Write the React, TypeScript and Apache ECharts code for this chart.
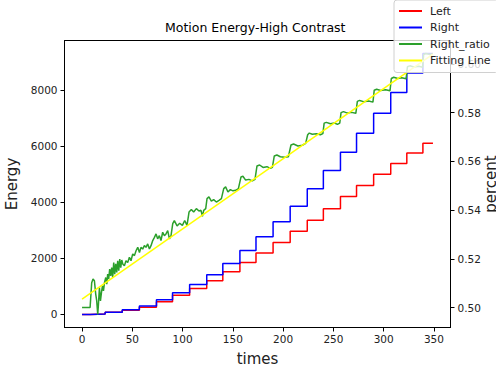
import React, { useEffect, useRef } from "react";
import * as echarts from "echarts";

// Step boundaries (times) and energy levels held from each boundary to the next
const stepTimes = [0, 8, 23, 40, 57, 74, 90, 107, 124, 140, 157, 173, 190, 207, 224, 240, 257, 273, 290, 307, 323, 339];
const endTime = 349;
const leftLevels = [0, 15, 75, 150, 261, 457, 682, 929, 1200, 1521, 1857, 2196, 2571, 2975, 3368, 3771, 4214, 4607, 5011, 5393, 5768, 6118];
const rightLevels = [0, 15, 75, 164, 304, 525, 779, 1071, 1414, 1821, 2286, 2771, 3307, 3868, 4493, 5143, 5796, 6475, 7189, 7929, 8625, 9318];

// Right_ratio: [time, ratio]
const ratioPoints: [number, number][] = [
  [0, 0.5], [8, 0.5], [9.6, 0.5102], [10.9, 0.5117], [12.3, 0.511], [13.6, 0.5055], [14.6, 0.5027], [15.6, 0.4972],
  [16.3, 0.5013], [17.3, 0.5082], [18.3, 0.5027], [19.3, 0.5061], [20.3, 0.5089], [21.3, 0.5068], [22.3, 0.5102],
  [23.6, 0.5123], [24.6, 0.5096], [25.5, 0.5137], [26.5, 0.5117], [27.5, 0.5158], [28.5, 0.513], [29.5, 0.5164],
  [30.5, 0.5123], [31.5, 0.5185], [32.5, 0.5137], [33.5, 0.5179], [34.5, 0.5144], [35.5, 0.5192], [36.5, 0.5151],
  [37.5, 0.5199], [38.5, 0.5164], [39.5, 0.5195], [40.5, 0.5179], [42.1, 0.5171], [43.7, 0.5192], [45.4, 0.5185],
  [47.1, 0.5206], [48.7, 0.5192], [50.4, 0.522], [52.1, 0.5213], [53.7, 0.5233], [55.4, 0.5247], [57.1, 0.5226],
  [58.6, 0.5247], [60.3, 0.524], [62, 0.5254], [63.6, 0.5247], [65.3, 0.5261], [67, 0.524], [68.6, 0.5254],
  [70.3, 0.5275], [72, 0.5288], [73.6, 0.5302], [75.2, 0.5282], [76.9, 0.5295], [78.5, 0.5275], [80.2, 0.5309],
  [81.9, 0.5295], [83.5, 0.5302], [85.2, 0.5316], [86.9, 0.5282], [88.5, 0.5295], [90.2, 0.5344], [91.8, 0.5357],
  [94.5, 0.5335], [97.1, 0.5346], [99.8, 0.5337], [102.1, 0.5357], [104.4, 0.5337], [106.4, 0.5392], [108.7, 0.5402],
  [111, 0.5392], [113.7, 0.5406], [116.3, 0.5396], [118.3, 0.5399], [119.7, 0.5374], [121, 0.5399], [123, 0.5406],
  [124.3, 0.5447], [126.2, 0.5454], [128.6, 0.5437], [130.9, 0.5443], [133.6, 0.5433], [136.2, 0.544], [138.6, 0.5447],
  [140.9, 0.5488], [142.8, 0.5495], [145.1, 0.5474], [147.5, 0.5484], [150.1, 0.5479], [152.8, 0.5481], [155.5, 0.5488],
  [158.1, 0.5536], [160, 0.5539], [162.7, 0.5523], [166, 0.5526], [169.4, 0.552], [172, 0.5526],
  [174, 0.5581], [176.6, 0.5585], [180, 0.5575], [183.9, 0.5578], [187.3, 0.5571], [189.3, 0.5575],
  [191.2, 0.5622], [193.8, 0.5626], [197.2, 0.5619], [201.5, 0.5617], [205.2, 0.5619],
  [207.8, 0.5667], [210.4, 0.5671], [214.7, 0.5663], [219.1, 0.5666], [222.4, 0.5674],
  [224.4, 0.5709], [226, 0.5716], [229, 0.5711], [233, 0.5713], [237, 0.5709], [239.5, 0.5714],
  [240.8, 0.5757], [243, 0.576], [247, 0.5754], [251, 0.5757], [254, 0.5752], [256.3, 0.5757],
  [257.6, 0.58], [260, 0.5804], [264, 0.5798], [268, 0.5801], [272.3, 0.5797],
  [273.8, 0.5846], [276, 0.585], [280, 0.5845], [285, 0.5848], [289.3, 0.5843],
  [290.6, 0.5892], [293, 0.5896], [297, 0.5891], [302, 0.5894], [306.3, 0.589],
  [307.6, 0.594], [310, 0.5945], [314, 0.594], [318, 0.5943], [322.3, 0.5939],
  [323.6, 0.5988], [326, 0.5992], [330, 0.5987], [335, 0.599], [338.6, 0.5986],
  [339.8, 0.6038], [342, 0.6043], [345, 0.6039], [349, 0.6041],
];

const fitLine: [number, number][] = [[0, 0.5034], [349, 0.604]];

const xTicks = [0, 50, 100, 150, 200, 250, 300, 350];
const energyTicks = [0, 2000, 4000, 6000, 8000];
const percentTicks = [0.5, 0.52, 0.54, 0.56, 0.58, 0.6];

const FONT = "DejaVu Sans";
const TXT = "#222";

function stepData(levels: number[]): [number, number][] {
  const d: [number, number][] = stepTimes.map((t, i) => [t, levels[i]]);
  d.push([endTime, levels[levels.length - 1]]);
  return d;
}

export default function App() {
  const ref = useRef<HTMLDivElement>(null);
  useEffect(() => {
    if (!ref.current) return;
    const chart = echarts.init(ref.current, null, { renderer: "svg" });
    const axisLine = { show: true, onZero: false, lineStyle: { color: "#000", width: 1 } };
    const tick = (vals: number[]) => ({
      show: true,
      inside: false,
      length: 4,
      customValues: vals,
      lineStyle: { color: "#000", width: 1 },
    });
    chart.setOption({
      animation: false,
      backgroundColor: "#fff",
      title: {
        text: "Motion Energy-High Contrast",
        left: 165,
        top: 21,
        padding: 0,
        textStyle: { fontSize: 12.5, fontWeight: "normal", color: "#000", fontFamily: FONT },
      },
      legend: {
        orient: "vertical",
        left: 394,
        top: 0,
        data: ["Left", "Right", "Right_ratio", "Fitting Line"],
        icon: "rect",
        itemWidth: 23,
        itemHeight: 2,
        itemGap: 2.5,
        padding: [4, 8, 5, 5],
        backgroundColor: "rgba(255,255,255,0.8)",
        borderColor: "#d0d0d0",
        borderWidth: 1,
        borderRadius: 3,
        textStyle: {
          fontSize: 11,
          lineHeight: 14,
          color: TXT,
          fontFamily: FONT,
          padding: [0, 0, 0, 3],
        },
      },
      grid: {
        left: 64.5,
        top: 40.5,
        width: 386,
        height: 287,
        containLabel: false,
        outerBoundsMode: "none",
        show: true,
        borderColor: "#000",
        borderWidth: 1,
        backgroundColor: "transparent",
      },
      xAxis: {
        type: "value",
        min: -17.45,
        max: 366.45,
        axisLine,
        axisTick: tick(xTicks),
        splitLine: { show: false },
        axisLabel: {
          customValues: xTicks,
          margin: 6,
          fontSize: 10.5,
          color: TXT,
          fontFamily: FONT,
          formatter: (v: number) => String(v),
        },
        name: "times",
        nameLocation: "middle",
        nameGap: 24,
        nameTextStyle: { fontSize: 15, color: TXT, fontFamily: FONT },
      },
      yAxis: [
        {
          type: "value",
          position: "left",
          min: -466,
          max: 9784,
          axisLine,
          axisTick: tick(energyTicks),
          splitLine: { show: false },
          axisLabel: {
            customValues: energyTicks,
            margin: 7,
            fontSize: 10.5,
            color: TXT,
            fontFamily: FONT,
            formatter: (v: number) => String(v),
          },
          name: "Energy",
          nameLocation: "middle",
          nameRotate: 90,
          nameGap: 40,
          nameTextStyle: { fontSize: 15, color: TXT, fontFamily: FONT },
        },
        {
          type: "value",
          position: "right",
          min: 0.4918,
          max: 0.6096,
          axisLine,
          axisTick: tick(percentTicks),
          splitLine: { show: false },
          axisLabel: {
            customValues: percentTicks,
            margin: 7,
            fontSize: 10.5,
            color: TXT,
            fontFamily: FONT,
            formatter: (v: number) => v.toFixed(2),
          },
          name: "percent",
          nameLocation: "middle",
          nameRotate: 90,
          nameGap: 33,
          nameMoveOverlap: false,
          nameTextStyle: { fontSize: 15, color: TXT, fontFamily: FONT },
        },
      ],
      series: [
        {
          name: "Left",
          type: "line",
          step: "end",
          data: stepData(leftLevels),
          symbol: "none",
          lineStyle: { color: "#ff0000", width: 1.5 },
          itemStyle: { color: "#ff0000" },
          silent: true,
        },
        {
          name: "Right",
          type: "line",
          step: "end",
          data: stepData(rightLevels),
          symbol: "none",
          lineStyle: { color: "#0000ff", width: 1.5 },
          itemStyle: { color: "#0000ff" },
          silent: true,
        },
        {
          name: "Right_ratio",
          type: "line",
          yAxisIndex: 1,
          data: ratioPoints,
          symbol: "none",
          lineStyle: { color: "#2ca02c", width: 1.5 },
          itemStyle: { color: "#2ca02c" },
          silent: true,
        },
        {
          name: "Fitting Line",
          type: "line",
          yAxisIndex: 1,
          data: fitLine,
          symbol: "none",
          lineStyle: { color: "#ffff00", width: 1.5 },
          itemStyle: { color: "#ffff00" },
          silent: true,
        },
      ],
    });
    return () => chart.dispose();
  }, []);
  return (
    <div
      ref={ref}
      style={{ position: "absolute", left: 0, top: 0, width: 496, height: 368 }}
    />
  );
}
